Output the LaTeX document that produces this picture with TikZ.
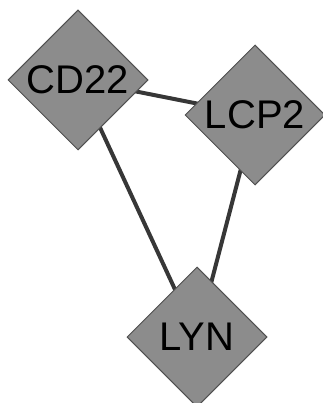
\documentclass[tikz,border=0pt]{standalone}
\usepackage{fontspec}
\setmainfont{Liberation Sans}
\usetikzlibrary{shapes.geometric}
\definecolor{nodefill}{RGB}{140,140,140}
\definecolor{nodeline}{RGB}{80,80,80}
\definecolor{edgecol}{RGB}{55,55,55}
\begin{document}
\begin{tikzpicture}[x=1pt,y=-1pt,
  gene/.style={diamond, draw=nodeline, line width=1pt, fill=nodefill, inner sep=0pt,
    minimum width=140pt, minimum height=140pt, font=\fontsize{40}{40}\selectfont, text=black},
  link/.style={draw=edgecol, line width=4pt}]
\useasboundingbox (0,0) rectangle (322,403);
\coordinate (cCD22) at (78,80);
\coordinate (cLCP2) at (255,115);
\coordinate (cLYN) at (197,337);
\draw[link] (cCD22) -- (cLCP2);
\draw[link] (cCD22) -- (cLYN);
\draw[link] (cLCP2) -- (cLYN);
\node[gene] (CD22) at (cCD22) {CD22};
\node[gene] (LCP2) at (cLCP2) {LCP2};
\node[gene] (LYN) at (cLYN) {LYN};
\end{tikzpicture}
\end{document}
